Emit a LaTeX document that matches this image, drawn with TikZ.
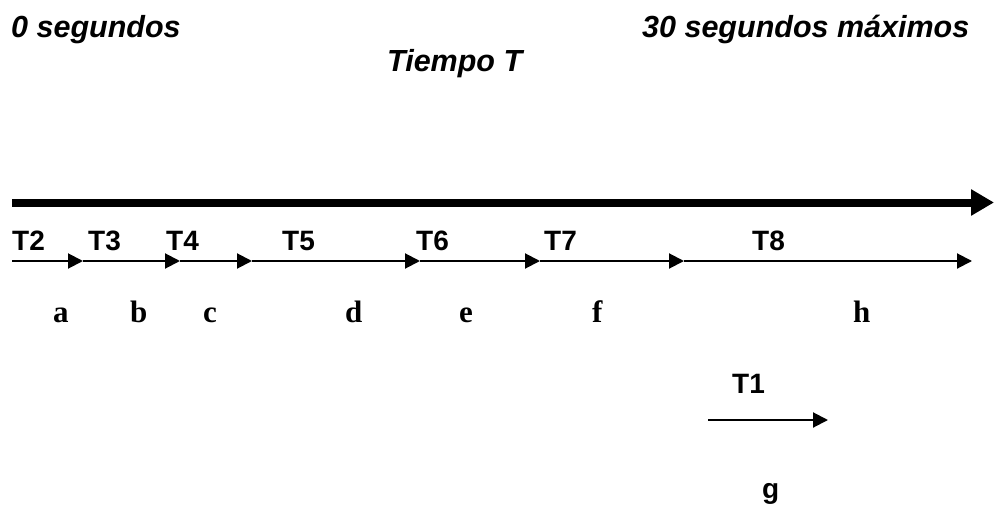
\documentclass[tikz,border=0pt]{standalone}
\usepackage{fontspec}
\setmainfont{Liberation Serif}
\setsansfont{Liberation Sans}
\usetikzlibrary{arrows.meta}
\tikzset{
  toptext/.style={font=\sffamily\bfseries\itshape\fontsize{30.5}{34}\selectfont, inner sep=0pt, anchor=base west},
  tlabel/.style={font=\sffamily\bfseries\fontsize{28}{32}\selectfont, inner sep=0pt, anchor=base west},
  letter/.style={font=\rmfamily\bfseries\fontsize{31}{34}\selectfont, inner sep=0pt, anchor=base west},
  bigarrow/.style={line width=8pt, -{Triangle[length=23pt,width=25pt]}},
  segarrow/.style={line width=2pt, -{Triangle[length=15pt,width=15pt]}},
}
\begin{document}
\begin{tikzpicture}[x=1pt,y=-1pt]
\useasboundingbox (0,0) rectangle (995,508);
% top texts
\node[toptext] (t0) at (11,38) {0 segundos};
\node[toptext] (t30) at (642,38) {30 segundos máximos};
\node[toptext] (tt) at (387,72) {Tiempo T};
% main axis
\coordinate (m0) at (12,202.5);
\coordinate (m1) at (994,202.5);
\draw[bigarrow] (m0) -- (m1);
% segment points
\coordinate (p0) at (12,261);
\coordinate (p1) at (83,261);
\coordinate (p2) at (180,261);
\coordinate (p3) at (252,261);
\coordinate (p4) at (420,261);
\coordinate (p5) at (540,261);
\coordinate (p6) at (684,261);
\coordinate (p7) at (972,261);
\draw[segarrow] (p0) -- (p1);
\draw[segarrow] (p1) -- (p2);
\draw[segarrow] (p2) -- (p3);
\draw[segarrow] (p3) -- (p4);
\draw[segarrow] (p4) -- (p5);
\draw[segarrow] (p5) -- (p6);
\draw[segarrow] (p6) -- (p7);
% T labels
\node[tlabel] (T2) at (12,250) {T2};
\node[tlabel] (T3) at (88,250) {T3};
\node[tlabel] (T4) at (166,250) {T4};
\node[tlabel] (T5) at (282,250) {T5};
\node[tlabel] (T6) at (416,250) {T6};
\node[tlabel] (T7) at (544,250) {T7};
\node[tlabel] (T8) at (752,250) {T8};
% letters
\node[letter] (la) at (53,322) {a};
\node[letter] (lb) at (130,322) {b};
\node[letter] (lc) at (203,322) {c};
\node[letter] (ld) at (345,322) {d};
\node[letter] (le) at (459,322) {e};
\node[letter] (lf) at (592,322) {f};
\node[letter] (lh) at (853,322) {h};
% T1
\node[tlabel] (T1) at (732,393) {T1};
\coordinate (q0) at (708,420);
\coordinate (q1) at (828,420);
\draw[segarrow] (q0) -- (q1);
\node[tlabel] (lg) at (762,498) {g};
\end{tikzpicture}
\end{document}
